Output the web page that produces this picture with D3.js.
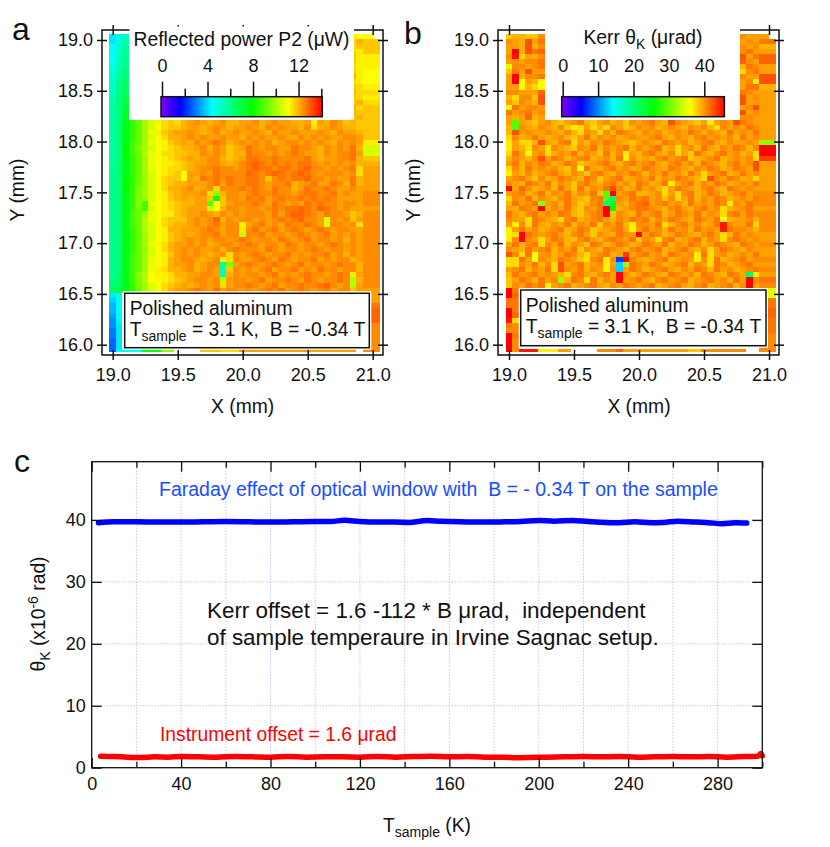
<!DOCTYPE html>
<html>
<head>
<meta charset="utf-8">
<script src="https://cdnjs.cloudflare.com/ajax/libs/d3/7.8.5/d3.min.js"></script>
<style>
    html, body { margin: 0; padding: 0; background: #fff; }
    svg { display: block; }
    text { font-family: "Liberation Sans", Arial, sans-serif; fill: #111; white-space: pre; }
    .tick text { font-size: 18px; }
</style>
</head>
<body>
<div id="chart"></div>
<script>
// one character per cell, level in LEVEL_CODES. "left|right" = cells hidden in the middle, "." = no data
const LEVEL_CODES = "0123456789abcdefghijklmnopqrstuvwxyzABCDEFGHIJKLMNOPQRSTUVWXYZ";

const powerRows = [
    "iln|NMM", "ilo|OQP", "jmp|OPP", "jmp|ONP", "knq|PNN", "knq|PNN", "loq|ONN", "lpr|PNM", "mps|QNM",
    "mqs|ONM", "nqt|PON", "nqt|QOO", "oru|PON", "oru|PQO", "prv|QOP", "prw|QPP", "prw|PQP",
    "prxBEHKNO POQRSRQRSQQR RSQRSRRQQRNRQSRPQP P",
    "prxBEHKMO PPQRRQRSRQRR SRQSRSRRQSOQRSRQQP P",
    "prxBEHLNP QRRSRQRSQRSR RSRQSRRSRRRSRQSRRQ P",
    "prxBEHKMO QQRSRSRRSRRQ SRSRRSRQSRSRSRRSSR P",
    "prxCEHLMN PQRQSRSTSQRS RSRSQRSSRSRSRQSRSR N",
    "pryCFHKMN OPQQRSQSRPQR TSRSSRRTSSRQSRSRTQ K",
    "pryCEILMO OPPQQSRSRPQQ TSSRSRSTSRRQSRSSTR K",
    "prxBEHLMN OPQRQRSSQPQR TTSSTSSSSTRQRRSSTQ P",
    "prxBEHLMN NOPQRRSSRQRS TUTSTSTSTTSRSRSRSQ Q",
    "qrxBEHLMN OOPQRSSTSSRS TUTTSTTSTUSSRSRSTO R",
    "qrxBEHKMN OPMRRSRTSSSS UTSTUTSTUTSRSSSRSO R",
    "qrxBEHKMO PPMRQTSTSTSS TTSPSTSTTUSSRSRRTQ R",
    "qryBEHKMO PQQRRRSTRTSS TTSRSSTQRSTRRTSQTQ R",
    "qryBFHKMO QQRSQRSOSSST STSRTSSQRTSSTSRRSR R",
    "qrxBFHKMN PQRRRSOGQSSR STSSTSSRSTTSSTRSRR S",
    "qrxBFHKMN PQRQRRPwPSSR TSTRSTSSTSTSTSRRRR S",
    "qrxBGCLMN OPQQRRDMPRSS STSRTSRSRTSTSSRSSR S",
    "qrxBFCKMN OPQRRRJMQSSR SSRSTSTTUTSUTSRSRR R",
    "qrxCEHLMN NPQRRSRQSRSR SSSRTRTUUTSRTSSRPQ S",
    "qrxCEILMO PPPRSRSUQSRS SRSRSTSTUSSRKSRSPR S",
    "qrxCEIKMO PQQRSRSTRSSN RSTRSRTSSTSRKSSRSO S",
    "qrxBEIKMN QQRRRSTSRSSN STRSTRSTSRSTSRSSRR S",
    "qrxBEHKMN PQRQRSSTRSSJ SSTRSSRSTSRSTRSRSR S",
    "qrxBEHKMN PQRSRSRSSRST SRSSRTSRSTRSSRSQSR S",
    "qrxBEHLMO QRRSRSQRSSRS TSRSSRTSRSSRSTSRSR S",
    "qrxBEGKMO QRSRSRRSQSTS SSRTSRSSRSTSRSSRSR S",
    "qrxCEHKMN PRSRSRQRSOSR STSRSSTRSRSSTRSQSR S",
    "qrxCEHLMN QRSSRQRSNOSR RSTSRTSRSSTRSRSSQR S",
    "qrxCEHLMN QRRSQRSSoFRS TSRSTSRSTRSSRSTSSQ S",
    "qrxCEHLNO QQRSQRSRoPSR SRSTRSSTRSRTSSRSSQ S",
    "qsxCGIMNN OQQRRSSRoQSR SSRSTRSRSTSSRSTSNR S",
    "rsxCFIMMN OPQRSSRSIRSS RSTRSSTSRTSRSSTSIQ S",
    "ssxBFHKMO PQRQRSRSORSS TSRSTRSSTSSTUSRSIR S",
    "ttxBEHKMO QRRSTSRTRSSR SRSTSTRSTSRSTRSSPR R",
    "il|R", "hk|R", "gk|T", "gj|U", "fj|U", "ej|U", "ei|S", "di|S", "di|S", "ci|S", "ci|S",
    "cjkkkxxxGG....PPPOOORRRRRRRRRRRRRRRRRR.S"
];

const kerrRows = [
    "PQQPPS|SRRR", "SRQVRT|RSRT", "RRQVQS|SRSQ", "RZQVTU|STRR", "SYORQS|VRTU", "RSRSST|USRU",
    "KSSRST|QTSR", "PTRVRR|OSTR", "RZQSST|SRRV", "RZMRQM|RSNV", "RRMQOM|RTTQ", "SSRRRU|TSRR",
    "QOSSPV|VRSR", "RPSRQV|VRRR", "NTRSSR|RSVR", "TRSTRS|VRSR", "RQRUQR|SSRR",
    "RDRQPR SQPRSTQPRSQRPSR STRQVSRQPRNRSRV TSR R",
    "QDSRQS RQSPNOROQOSRPQS RSQRSRQSRSQOSRS RTS R",
    "QVRSRR SRQSQOSROSQTSRQ SRSQRSRTSQSRQTR SRT R",
    "OSQRTR QRSQPRTQSRSQRSR RSTRQSRQSTRSRSQ TRS R",
    "NROOQV RQSTORQSRTSRQPR SRQTSRSQRSTRQSR RSR G",
    "NRQOSR OSRQPSRTQSRSTQS RSTQRORSQTRQSRT SQS Z",
    "OTRMRS OQSRTQSRPTQSNRQ STRQSORPTRQSTRS QRO Z",
    "QSRQSV RTSQRSTQRSQTNSQ RQSTRSTPQRSTQRS RSO W",
    "RTQSRT SQRTSPQRSTRQSTR STRQSTRSQTSRQST RSV R",
    "OSQTRS RSQPSMTRQSTRSQR TSRQTSRQSRTSQRT SRV R",
    "NRQSQR STRQSRPSTRQSRTS QSRTRSQTRORSTQR TRS R",
    "RSTRPS QRTSRQTSPRSTQRS RTQSRTSRQOVSRTS QRO R",
    "SRQTSR TQSRPSTRQSTRSQT SQRTNRSTQSRTSQR SRT R",
    "ZRUSQR SQTRPTQSRTVSQRT RSQORTSRQSTRQTS RSR R",
    "RSTQRT QSRTQSRTPDZRSTQ QRSOROSTQRTSQRS TRS S",
    "OSRTQS RQSTRQPSTDrSRTS TRSPSORTQSRTSQR SRT S",
    "QTRSTG RSQTRPQSTrwRQST URSTRSQTRSRTSNS RTS S",
    "RQTSRZ QSRTQPSRTZyQRST TSRQSTRQSTRSOQR STR R",
    "TRQSTR SRTSQPRSTZPSRQT RSTQRTSRTQSROST RTS S",
    "SRROTS RQOSTQRSTRQSRTS TQSRTSRQTSRTMQR RSQ S",
    "RNSOTR QSRTQSRTPSRTQNS SRTOQSTRSQRTYSR RTO S",
    "NRTRSQ RSTQRTSPQRSTQNR TRSQTRSQTRSRYTS SRQ S",
    "NOZTSR STRQSTRPSRQTSRZ RTSQRTSRQSTROQT RSR R",
    "NSZSRO RTSQPSTRQSTSRTP SROSTQRSTQSROST SRS R",
    "RTQSTO SRTQSRPTSQRTSQR TSRTQSRTSQRTSRQ TSR S",
    "SRQTRS TQSRTPSRQTSRQST RSTQRSTRQSORTSR QSR R",
    "VSOTMR SQRTSQORSTQRWRS TRSQTSRSNTORSQR SRT R",
    "OOTRMS RQTSRPOSTNSaZSR QRSTQRSRNSOTQRS TRS S",
    "OOSRTQ SOVRSTQRSNRhHTS RTSQRSTQSROTSQR STR R",
    "RSTQSR TOVSRTQSRNShRTS QRSTRQSRTSQTRSQ RST S",
    "QTRSTR SRQOSTRQSTRZSQR TSRQTSRSQTSRQTS RtN R",
    "PRTSQT RSHQTSOTQSRZRST RQSTRSTQRSTRSQT RZS T",
    "PSRTST NRSTQRSTRQSRTSR STQRSTRQSTQRSTQ SZR S",
    "ZT|L", "ZU|L", "TT|T", "TT|T", "ZT|U", "ZU|U", "YO|T", "TS|T", "SS|T", "ZT|S", "ZS|S", "ZS|S",
    "ZSYYYNNNRR....SSSURRRRRRRRRRPPSSSSSSS..S"
];

// grid of the two scans, mm
const scanLeft = 18.975;
const scanStep = 0.05;
const scanRight = 21.056;
const scanTop = 19.062;
const scanBottom = 15.93;
const scanCols = 40;

const mapXTicks = [19, 19.5, 20, 20.5, 21];
const mapYTicks = [16, 16.5, 17, 17.5, 18, 18.5, 19];

const rainbowStops = [0, 0.12, 0.315, 0.565, 0.79, 1];
const rainbowColors = ["#8000ff", "#0000ff", "#00ffff", "#00ff00", "#ffff00", "#ff0000"];
const powerMax = 14;
const powerMajor = [0, 4, 8, 12];
const powerMinor = [2, 6, 10, 14];
const kerrMax = 45.4;
const kerrMajor = [0, 10, 20, 30, 40];

const faradayT = [3, 10, 20, 30, 40, 50, 60, 70, 80, 90, 100, 107, 113, 120, 128, 135, 142, 150, 156, 165, 175, 185, 192, 200, 207, 215, 222, 230, 236, 243, 250, 256, 262, 270, 276, 282, 288, 293];
const faradayKerr = [39.55, 39.7, 39.7, 39.65, 39.65, 39.7, 39.75, 39.7, 39.65, 39.7, 39.75, 39.75, 39.95, 39.75, 39.65, 39.65, 39.6, 39.9, 39.8, 39.7, 39.65, 39.7, 39.75, 39.9, 39.8, 39.9, 39.75, 39.6, 39.55, 39.7, 39.55, 39.6, 39.8, 39.65, 39.55, 39.4, 39.55, 39.5];

const offsetT = [4, 10, 16, 22, 28, 34, 40, 48, 56, 64, 72, 80, 88, 96, 104, 112, 120, 128, 136, 144, 152, 160, 168, 176, 184, 190, 196, 204, 212, 220, 228, 236, 244, 252, 260, 268, 276, 284, 292, 298, 299.5, 300];
const offsetKerr = [1.85, 1.8, 1.7, 1.65, 1.75, 1.7, 1.8, 1.75, 1.7, 1.8, 1.75, 1.7, 1.8, 1.7, 1.75, 1.75, 1.7, 1.8, 1.7, 1.8, 1.85, 1.75, 1.8, 1.7, 1.7, 1.6, 1.65, 1.7, 1.75, 1.8, 1.75, 1.8, 1.7, 1.75, 1.8, 1.75, 1.8, 1.7, 1.8, 1.85, 2.3, 1.9];

const tempMajor = [0, 40, 80, 120, 160, 200, 240, 280];
const tempMinor = [20, 60, 100, 140, 180, 220, 260, 300];
const kerrTicks = [0, 10, 20, 30, 40];

const width = 830;
const height = 847;

const rainbow = d3.scaleLinear().domain(rainbowStops).range(rainbowColors).clamp(true);

const svg = d3.select("#chart").append("svg")
    .attr("width", width)
    .attr("height", height);

const defs = svg.append("defs");
const gradient = defs.append("linearGradient").attr("id", "rainbow");
rainbowStops.forEach((s, i) => {
    gradient.append("stop").attr("offset", s).attr("stop-color", rainbowColors[i]);
});

function decodeRow(row) {
    const parts = row.replace(/ /g, "").split("|");
    if (parts.length === 1) return parts[0].split("");
    const gap = scanCols - parts[0].length - parts[1].length;
    return [...parts[0], ...new Array(gap).fill("."), ...parts[1]];
}

function drawAxes(g, x, y, frame) {
    const clean = a => {
        a.select(".domain").remove();
    };
    g.append("g").attr("transform", `translate(0,${frame.bottom})`)
        .call(d3.axisBottom(x).tickValues(mapXTicks).tickFormat(d3.format(".1f")).tickSize(5).tickPadding(8))
        .call(clean)
        .selectAll("line").attr("y1", -5);
    g.append("g").attr("transform", `translate(0,${frame.top})`)
        .call(d3.axisTop(x).tickValues(mapXTicks).tickFormat("").tickSize(5))
        .call(clean)
        .selectAll("line").attr("y1", 5);
    g.append("g").attr("transform", `translate(${frame.left},0)`)
        .call(d3.axisLeft(y).tickValues(mapYTicks).tickFormat(d3.format(".1f")).tickSize(5).tickPadding(4))
        .call(clean)
        .selectAll("line").attr("x1", 5);
    g.append("g").attr("transform", `translate(${frame.right},0)`)
        .call(d3.axisRight(y).tickValues(mapYTicks).tickFormat("").tickSize(5))
        .call(clean)
        .selectAll("line").attr("x1", -5);
    g.selectAll(".tick line").attr("stroke", "#111").attr("stroke-width", 1.5);
}

function drawMap(opts) {
    const { frame, xRange, rows, maxValue, mask, letter, legend } = opts;
    const g = svg.append("g");

    const x = d3.scaleLinear().domain([19, 21]).range(xRange);
    const y = d3.scaleLinear().domain([16, 19]).range([344.7, 40]);

    const cells = [];
    rows.forEach((row, r) => {
        decodeRow(row).forEach((code, c) => {
            if (code === ".") return;
            cells.push({ r, c, value: LEVEL_CODES.indexOf(code) / 61 * maxValue });
        });
    });

    const cellRight = d => {
        if (d.c < scanCols - 1) return scanLeft + (d.c + 1) * scanStep;
        return d.r === 0 ? 21 : scanRight;
    };
    const cellTop = d => scanTop - d.r * scanStep;
    const cellBottom = d => Math.max(scanTop - (d.r + 1) * scanStep, scanBottom);

    g.append("g").selectAll("rect")
        .data(cells)
        .enter().append("rect")
        .attr("x", d => x(scanLeft + d.c * scanStep))
        .attr("y", d => y(cellTop(d)))
        .attr("width", d => x(cellRight(d)) - x(scanLeft + d.c * scanStep))
        .attr("height", d => y(cellBottom(d)) - y(cellTop(d)))
        .attr("fill", d => rainbow(d.value / maxValue))
        .attr("shape-rendering", "crispEdges");

    g.append("rect")
        .attr("x", frame.left).attr("y", frame.top)
        .attr("width", frame.right - frame.left).attr("height", frame.bottom - frame.top)
        .attr("fill", "none").attr("stroke", "#111").attr("stroke-width", 1.5);

    drawAxes(g, x, y, frame);

    g.append("rect")
        .attr("x", mask.left).attr("y", mask.top)
        .attr("width", mask.right - mask.left).attr("height", mask.bottom - mask.top)
        .attr("fill", "#fff");

    g.append("text")
        .attr("x", x(20)).attr("y", 413)
        .attr("text-anchor", "middle").style("font-size", "19.3px")
        .text("X (mm)");
    g.append("text")
        .attr("transform", `translate(${frame.left - 78},190) rotate(-90)`)
        .attr("text-anchor", "middle").style("font-size", "19.3px")
        .text("Y (mm)");
    g.append("text")
        .attr("x", letter.x).attr("y", letter.y)
        .style("font-size", "32px")
        .text(letter.text);

    // legend box
    g.append("rect")
        .attr("x", legend.left - 2).attr("y", legend.top - 2)
        .attr("width", legend.right - legend.left + 4).attr("height", legend.bottom - legend.top + 4)
        .attr("fill", "#fff");
    g.append("rect")
        .attr("x", legend.left).attr("y", legend.top)
        .attr("width", legend.right - legend.left).attr("height", legend.bottom - legend.top)
        .attr("fill", "#fff").attr("stroke", "#111").attr("stroke-width", 1.5);
    g.append("text")
        .attr("x", legend.left + 5).attr("y", legend.top + 22)
        .style("font-size", "19.3px")
        .text("Polished aluminum");
    const t = g.append("text")
        .attr("x", legend.left + 5).attr("y", legend.top + 43)
        .style("font-size", "19.3px");
    t.append("tspan").text("T");
    t.append("tspan").attr("dy", 5).style("font-size", "14px").text("sample");
    t.append("tspan").attr("dy", -5).text(" = 3.1 K,  B = -0.34 T");

    return g;
}

function drawColorBar(g, barLeft, barRight, maxValue, major, minor) {
    const c = d3.scaleLinear().domain([0, maxValue]).range([barLeft, barRight]);
    const barTop = 96.7;
    const barBottom = 116.7;

    g.append("g").attr("transform", `translate(0,${barTop})`)
        .call(d3.axisTop(c).tickValues(major).tickSize(15).tickPadding(10))
        .call(a => a.select(".domain").remove())
        .selectAll("line").attr("stroke", "#111").attr("stroke-width", 1.5);
    if (minor.length) {
        g.append("g").attr("transform", `translate(0,${barTop})`)
            .call(d3.axisTop(c).tickValues(minor).tickSize(8).tickFormat(""))
            .call(a => a.select(".domain").remove())
            .selectAll("line").attr("stroke", "#111").attr("stroke-width", 1.5);
    }

    g.append("rect")
        .attr("x", c(0) - 1).attr("y", barTop)
        .attr("width", c(maxValue) - c(0) + 2).attr("height", barBottom - barTop)
        .attr("fill", "url(#rainbow)")
        .attr("stroke", "#111").attr("stroke-width", 1.5);
}

// a
const mapA = drawMap({
    frame: { left: 102, right: 383, top: 30, bottom: 355 },
    xRange: [112.7, 372.7],
    rows: powerRows,
    maxValue: powerMax,
    mask: { left: 129.5, right: 354, top: 26.5, bottom: 119.5 },
    letter: { text: "a", x: 12, y: 40 },
    legend: { left: 124.7, right: 369.3, top: 293.3, bottom: 347.7 }
});
mapA.append("text")
    .attr("x", 241.5).attr("y", 46)
    .attr("text-anchor", "middle").style("font-size", "19.3px")
    .text("Reflected power P2 (μW)");
drawColorBar(mapA, 162, 321.3, powerMax, powerMajor, powerMinor);

// b
const mapB = drawMap({
    frame: { left: 498, right: 779, top: 30, bottom: 355 },
    xRange: [509, 769],
    rows: kerrRows,
    maxValue: kerrMax,
    mask: { left: 545, right: 740, top: 22, bottom: 119.5 },
    letter: { text: "b", x: 404, y: 44 },
    legend: { left: 520.7, right: 766, top: 290, bottom: 345.7 }
});
const kerrTitle = mapB.append("text")
    .attr("x", 643).attr("y", 44)
    .attr("text-anchor", "middle").style("font-size", "19.3px");
kerrTitle.append("tspan").text("Kerr θ");
kerrTitle.append("tspan").attr("dy", 5).style("font-size", "14px").text("K");
kerrTitle.append("tspan").attr("dy", -5).text(" (μrad)");
drawColorBar(mapB, 562.7, 723.4, kerrMax, kerrMajor, []);

// c
const plotLeft = 91.7, plotRight = 762.3, plotTop = 461.7, plotBottom = 767.7;
const xT = d3.scaleLinear().domain([0, 300]).range([plotLeft, plotRight]);
const yK = d3.scaleLinear().domain([0, 49.4]).range([plotBottom, plotTop]);
const plot = svg.append("g");

plot.append("g").selectAll("line")
    .data(d3.merge([tempMajor.slice(1), tempMinor.slice(0, -1)]))
    .enter().append("line")
    .attr("x1", d => xT(d)).attr("x2", d => xT(d))
    .attr("y1", plotTop).attr("y2", plotBottom);
plot.append("g").selectAll("line")
    .data(kerrTicks.slice(1))
    .enter().append("line")
    .attr("x1", plotLeft).attr("x2", plotRight)
    .attr("y1", d => yK(d)).attr("y2", d => yK(d));
plot.selectAll("line")
    .attr("stroke", "#a9a9ff").attr("stroke-width", 1).attr("stroke-dasharray", "1,2");

const drawLine = (xs, ys, color) => {
    const line = d3.line().x((d, i) => xT(xs[i])).y(d => yK(d)).curve(d3.curveMonotoneX);
    plot.append("path").datum(ys)
        .attr("d", line)
        .attr("fill", "none")
        .attr("stroke", color)
        .attr("stroke-width", 5.5)
        .attr("stroke-linecap", "round");
};
drawLine(faradayT, faradayKerr, "#0000ff");
drawLine(offsetT, offsetKerr, "#ff0000");

plot.append("rect")
    .attr("x", plotLeft).attr("y", plotTop)
    .attr("width", plotRight - plotLeft).attr("height", plotBottom - plotTop)
    .attr("fill", "none").attr("stroke", "#111").attr("stroke-width", 1.3);

const noDomain = a => a.select(".domain").remove();
plot.append("g").attr("transform", `translate(0,${plotBottom})`)
    .call(d3.axisBottom(xT).tickValues(tempMajor).tickSize(-10).tickPadding(10).tickFormat(d3.format("d")))
    .call(noDomain);
plot.append("g").attr("transform", `translate(0,${plotBottom})`)
    .call(d3.axisBottom(xT).tickValues(tempMinor).tickSize(-6).tickFormat(""))
    .call(noDomain);
plot.append("g").attr("transform", `translate(0,${plotTop})`)
    .call(d3.axisTop(xT).tickValues(tempMajor).tickSize(-10).tickFormat(""))
    .call(noDomain);
plot.append("g").attr("transform", `translate(0,${plotTop})`)
    .call(d3.axisTop(xT).tickValues(tempMinor).tickSize(-6).tickFormat(""))
    .call(noDomain);
plot.append("g").attr("transform", `translate(${plotLeft},0)`)
    .call(d3.axisLeft(yK).tickValues(kerrTicks).tickSize(-10).tickPadding(6))
    .call(noDomain);
plot.append("g").attr("transform", `translate(${plotRight},0)`)
    .call(d3.axisRight(yK).tickValues(kerrTicks).tickSize(-10).tickFormat(""))
    .call(noDomain);
plot.selectAll(".tick line").attr("stroke", "#111").attr("stroke-width", 1.3);

plot.append("text").attr("x", 14).attr("y", 472).style("font-size", "32px").text("c");
plot.append("text")
    .attr("x", 159).attr("y", 496)
    .style("font-size", "19.5px").style("fill", "#1a4dff")
    .text("Faraday effect of optical window with  B = - 0.34 T on the sample");
plot.append("text")
    .attr("x", 160).attr("y", 741)
    .style("font-size", "19.3px").style("fill", "#ff0000")
    .text("Instrument offset = 1.6 μrad");
plot.append("text").attr("x", 207).attr("y", 618).style("font-size", "22.4px")
    .text("Kerr offset = 1.6 -112 * B μrad,  independent");
plot.append("text").attr("x", 207).attr("y", 645).style("font-size", "22.4px")
    .text("of sample temperaure in Irvine Sagnac setup.");

const xLabel = plot.append("text")
    .attr("x", 427).attr("y", 832)
    .attr("text-anchor", "middle").style("font-size", "19.3px");
xLabel.append("tspan").text("T");
xLabel.append("tspan").attr("dy", 5).style("font-size", "14px").text("sample");
xLabel.append("tspan").attr("dy", -5).text(" (K)");

const yLabel = plot.append("text")
    .attr("transform", "translate(45,614) rotate(-90)")
    .attr("text-anchor", "middle").style("font-size", "19.3px");
yLabel.append("tspan").text("θ");
yLabel.append("tspan").attr("dy", 5).style("font-size", "14px").text("K");
yLabel.append("tspan").attr("dy", -5).text(" (x10");
yLabel.append("tspan").attr("dy", -7).style("font-size", "14px").text("-6");
yLabel.append("tspan").attr("dy", 7).text(" rad)");
</script>
</body>
</html>
